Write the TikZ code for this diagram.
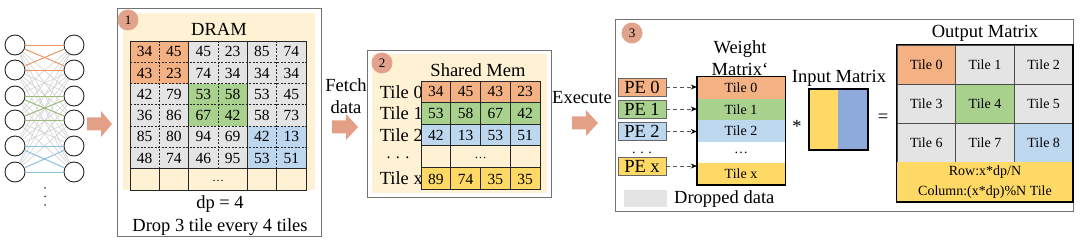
\documentclass[tikz,border=0pt]{standalone}
\usepackage{fontspec}
\setmainfont{Liberation Serif}
\usetikzlibrary{arrows.meta}

\definecolor{tileorange}{RGB}{244,177,131}
\definecolor{tilegreen}{RGB}{169,209,142}
\definecolor{tileblue}{RGB}{189,215,238}
\definecolor{tilegray}{RGB}{228,228,228}
\definecolor{tileyellow}{RGB}{255,217,102}
\definecolor{boxbg}{RGB}{255,241,212}
\definecolor{badgefill}{RGB}{226,163,140}
\definecolor{arrowfill}{RGB}{228,160,135}
\definecolor{inputblue}{RGB}{142,169,219}
\definecolor{synorange}{RGB}{237,150,100}
\definecolor{syngreen}{RGB}{160,185,120}
\definecolor{synblue}{RGB}{140,195,225}

\tikzset{
	lbl/.style={font=\fontsize{18.5}{22}\selectfont, inner sep=0pt},
	num/.style={font=\fontsize{15.5}{17}\selectfont, inner sep=0pt},
	badge/.style={circle, fill=badgefill, minimum size=21pt, inner sep=0pt, font=\fontsize{13}{14}\selectfont},
	neuron/.style={circle, draw=black!85, line width=0.9pt, minimum size=20pt, inner sep=0pt},
	synapse/.style={line width=0.6pt, draw=black!18},
	panel/.style={draw=black!55, line width=0.8pt},
	gridline/.style={draw=black!85, line width=0.8pt},
	pebox/.style={draw=black!60, line width=0.7pt, minimum width=48pt, minimum height=18pt, inner sep=0pt, font=\fontsize{18.5}{20}\selectfont},
	wtile/.style={minimum width=88pt, minimum height=21.6pt, inner sep=0pt, font=\fontsize{14}{15}\selectfont},
	otile/.style={draw=black!70, line width=0.8pt, minimum width=58.7pt, minimum height=39pt, inner sep=0pt, font=\fontsize{14}{15}\selectfont},
	pearrow/.style={dashed, dash pattern=on 4pt off 3pt, draw=black!65, line width=0.8pt, -{Stealth[length=6pt, width=5pt, black]}}
}

\begin{document}
\begin{tikzpicture}[x=1pt, y=-1pt]
	\useasboundingbox (0, 0) rectangle (1080, 243);

	% small fully connected net on the left
	\foreach \i/\y in {1/45, 2/70, 3/96, 4/120, 5/146, 6/172} {
		\node [neuron] (l\i) at (15, \y) {};
		\node [neuron] (r\i) at (74, \y) {};
	}
	\foreach \i in {1,...,6}
		\foreach \j in {1,...,6}
			\draw [synapse] (l\i) -- (r\j);
	\foreach \a/\b/\c in {1/2/synorange, 3/4/syngreen, 5/6/synblue}
		\foreach \i in {\a, \b}
			\foreach \j in {\a, \b}
				\draw [line width=0.9pt, draw=\c] (l\i) -- (r\j);
	\foreach \k in {0, 1, 2}
		\fill [black!70] (45, 188 + 8.5*\k) circle (1);

	% block arrows between the stages
	\fill [arrowfill] (87, 117.5) -- (101, 117.5) -- (101, 111) -- (112, 124) -- (101, 137) -- (101, 130.5) -- (87, 130.5) -- cycle;
	\fill [arrowfill] (332, 120.5) -- (346, 120.5) -- (346, 114) -- (358, 127) -- (346, 140) -- (346, 133.5) -- (332, 133.5) -- cycle;
	\fill [arrowfill] (572, 116.5) -- (586, 116.5) -- (586, 110) -- (598, 123) -- (586, 136) -- (586, 129.5) -- (572, 129.5) -- cycle;
	\node [lbl, align=center] (fetch) at (346, 96) {Fetch\\data};
	\node [lbl] (execute) at (582, 98) {Execute};

	% stage 1: DRAM
	\draw [panel] (117, 8) rectangle (321, 236);
	\fill [boxbg] (123, 13) rectangle (315, 190);
	\node [badge] (badge1) at (128, 20) {1};
	\node [lbl] (dram) at (219, 29) {DRAM};
	\fill [tilegray] (130, 41) rectangle (306, 168.8);
	\fill [tileorange] (130, 41) rectangle (188.7, 83.6);
	\fill [tilegreen] (188.7, 83.6) rectangle (247.3, 126.2);
	\fill [tileblue] (247.3, 126.2) rectangle (306, 168.8);
	\foreach \vals [count=\r] in {{34,45,45,23,85,74}, {43,23,74,34,34,34}, {42,79,53,58,53,45}, {36,86,67,42,58,73}, {85,80,94,69,42,13}, {48,74,46,95,53,51}}
		\foreach \v [count=\c] in \vals
			\node [num] (d\r-\c) at ({130 + 29.33*(\c - 0.5)}, {41 + 21.3*(\r - 0.5)}) {\v};
	\foreach \y in {62.3, 83.6, 104.9, 126.2, 147.5}
		\draw [gridline, dash pattern=on 2pt off 1.5pt] (130, \y) -- (306, \y);
	\foreach \x in {159.3, 218, 276.7}
		\draw [gridline, dash pattern=on 2pt off 1.5pt] (\x, 41) -- (\x, 168.8);
	\draw [gridline] (130, 168.8) -- (306, 168.8);
	\foreach \x in {159.3, 276.7}
		\draw [gridline] (\x, 168.8) -- (\x, 190);
	\foreach \x in {188.7, 247.3}
		\draw [gridline] (\x, 41) -- (\x, 190);
	\draw [gridline] (130, 41) rectangle (306, 190);
	\node [font=\fontsize{12}{13}\selectfont, inner sep=0pt] (dramdots) at (218, 181) {\dots};
	\node [lbl] (dp) at (220, 204) {dp = 4};
	\node [lbl] (drop) at (220, 227) {Drop 3 tile every 4 tiles};

	% stage 2: shared memory
	\draw [panel] (367, 50) rectangle (551, 197);
	\fill [boxbg] (372, 54) rectangle (547, 193);
	\node [badge] (badge2) at (382, 63) {2};
	\node [lbl] (shmem) at (478, 70) {Shared Mem};
	\node [lbl, anchor=east] (tile0) at (423, 92) {Tile 0};
	\node [lbl, anchor=east] (tile1) at (423, 113.5) {Tile 1};
	\node [lbl, anchor=east] (tile2) at (423, 135) {Tile 2};
	\node [font=\fontsize{16}{17}\selectfont, inner sep=0pt] (tiledots) at (398, 158) {. . .};
	\node [lbl, anchor=east] (tilex) at (423, 178) {Tile x};
	\fill [tileorange] (421, 81) rectangle (540, 102.6);
	\fill [tilegreen] (421, 102.6) rectangle (540, 124.2);
	\fill [tileblue] (421, 124.2) rectangle (540, 145.8);
	\fill [tileyellow] (421, 167.4) rectangle (540, 189);
	\foreach \vals [count=\r] in {{34,45,43,23}, {53,58,67,42}, {42,13,53,51}}
		\foreach \v [count=\c] in \vals
			\node [num] (s\r-\c) at ({421 + 29.75*(\c - 0.5)}, {81 + 21.6*(\r - 0.5)}) {\v};
	\foreach \v [count=\c] in {89, 74, 35, 35}
		\node [num] (sx-\c) at ({421 + 29.75*(\c - 0.5)}, 179) {\v};
	\foreach \y in {102.6, 124.2, 145.8, 167.4}
		\draw [gridline] (421, \y) -- (540, \y);
	\foreach \x in {450.75, 510.25}
		\draw [gridline] (\x, 81) -- (\x, 189);
	\draw [gridline] (480.5, 81) -- (480.5, 145.8);
	\draw [gridline] (480.5, 167.4) -- (480.5, 189);
	\draw [gridline] (421, 81) rectangle (540, 189);
	\node [font=\fontsize{12}{13}\selectfont, inner sep=0pt] (shdots) at (480.5, 158) {\dots};

	% stage 3: execution on the PEs
	\draw [panel] (615, 19) rectangle (1073, 211);
	\node [badge] (badge3) at (632, 33) {3};
	\node [lbl, align=center] (wlabel) at (740, 58.5) {Weight\\Matrix`};
	\node [pebox, fill=tileorange] (pe0) at (642, 87) {PE 0};
	\node [pebox, fill=tilegreen] (pe1) at (642, 109) {PE 1};
	\node [pebox, fill=tileblue] (pe2) at (642, 131.5) {PE 2};
	\node [font=\fontsize{14}{15}\selectfont, inner sep=0pt] (pedots) at (642, 153) {. . .};
	\node [pebox, fill=tileyellow] (pex) at (642, 166) {PE x};
	\node [wtile, fill=tileorange] (w0) at (741, 87.8) {Tile 0};
	\node [wtile, fill=tilegreen] (w1) at (741, 109.4) {Tile 1};
	\node [wtile, fill=tileblue] (w2) at (741, 131) {Tile 2};
	\node [wtile, fill=white] (wd) at (741, 152.6) {\dots};
	\node [wtile, fill=tileyellow] (wx) at (741, 174.2) {Tile x};
	\draw [line width=1.4pt] (w0.north west) rectangle (wx.south east);
	\draw [pearrow] (pe0.east) -- (pe0.east -| w0.west);
	\draw [pearrow] (pe1.east) -- (pe1.east -| w1.west);
	\draw [pearrow] (pe2.east) -- (pe2.east -| w2.west);
	\draw [pearrow] (pex.east) -- (pex.east -| wx.west);

	\node [lbl] (times) at (797, 126) {*};
	\node [lbl] (inlabel) at (839, 78) {Input Matrix};
	\fill [tileyellow] (809, 89) rectangle (838, 150);
	\fill [inputblue] (838, 89) rectangle (868, 150);
	\draw [line width=1.2pt] (809, 89) rectangle (868, 150);
	\node [lbl] (equals) at (883, 118) {=};

	\node [lbl] (outlabel) at (985, 33) {Output Matrix};
	\node [otile, fill=tileorange] (o0) at (926.3, 64.5) {Tile 0};
	\node [otile, fill=tilegray] (o1) at (985, 64.5) {Tile 1};
	\node [otile, fill=tilegray] (o2) at (1043.7, 64.5) {Tile 2};
	\node [otile, fill=tilegray] (o3) at (926.3, 103.5) {Tile 3};
	\node [otile, fill=tilegreen] (o4) at (985, 103.5) {Tile 4};
	\node [otile, fill=tilegray] (o5) at (1043.7, 103.5) {Tile 5};
	\node [otile, fill=tilegray] (o6) at (926.3, 142.5) {Tile 6};
	\node [otile, fill=tilegray] (o7) at (985, 142.5) {Tile 7};
	\node [otile, fill=tileblue] (o8) at (1043.7, 142.5) {Tile 8};
	\fill [tileyellow] (o6.south west) rectangle (1073, 202);
	\node [font=\fontsize{14}{15}\selectfont, inner sep=0pt] (rowtxt) at (985, 172) {Row:x*dp/N};
	\node [font=\fontsize{14}{15}\selectfont, inner sep=0pt] (coltxt) at (985, 192.5) {Column:(x*dp)\%N Tile};
	\draw [line width=1.3pt] (o0.north west) rectangle (1073, 202);

	% legend
	\fill [tilegray] (624, 190) rectangle (667, 207);
	\node [lbl, anchor=west] (dropped) at (674, 199) {Dropped data};
\end{tikzpicture}
\end{document}
